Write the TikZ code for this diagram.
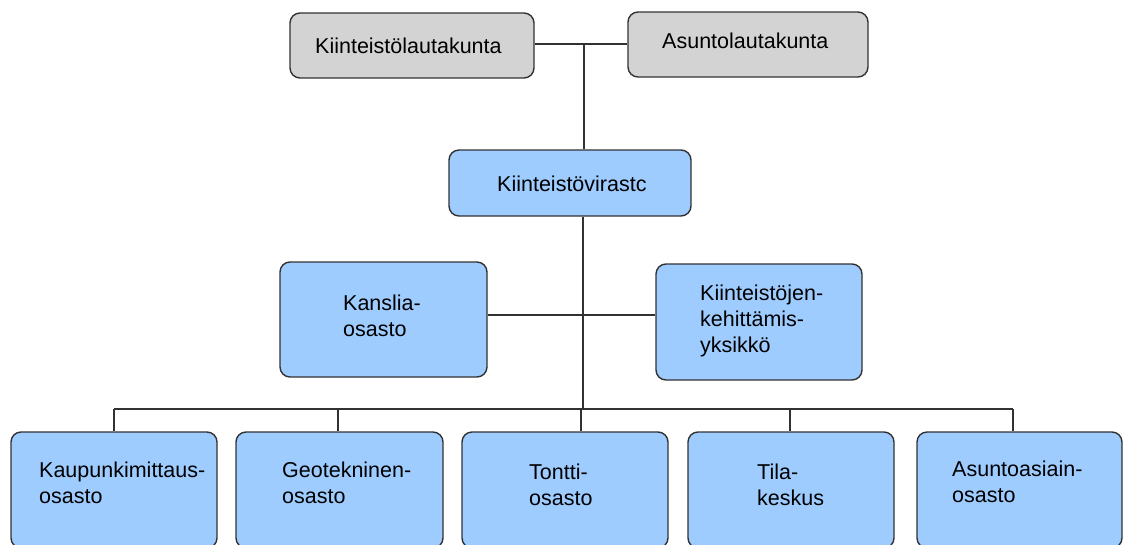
\documentclass[tikz,border=0pt]{standalone}
\usepackage{fontspec}
\setmainfont{Liberation Sans}
\definecolor{boxgray}{RGB}{211,211,211}
\definecolor{boxblue}{RGB}{158,204,255}
\definecolor{edge}{RGB}{50,50,50}
\newcommand\stk[1]{\vtop{\halign{##\hfil\cr#1\crcr}}}
\begin{document}
\begin{tikzpicture}[x=1pt,y=-1pt,
  box/.style={draw=edge, line width=1.4pt, rounded corners=10pt, inner sep=0pt},
  graybox/.style={box, fill=boxgray},
  bluebox/.style={box, fill=boxblue},
  lbl/.style={anchor=base west, inner sep=0pt, font=\fontsize{21.5}{26}\selectfont},
  conn/.style={draw=edge, line width=1.4pt}]
\useasboundingbox (0,0) rectangle (1124,544);
\clip (0,0) rectangle (1124,544);
% top row
\node[graybox, minimum width=244pt, minimum height=65pt] (kl) at (412,45.5) {};
\node[graybox, minimum width=240pt, minimum height=65pt] (al) at (748,44.5) {};
\node[bluebox, minimum width=242pt, minimum height=66pt] (kv) at (570,183) {};
% middle row
\node[bluebox, minimum width=207pt, minimum height=115pt] (ka) at (383.5,319.5) {};
\node[bluebox, minimum width=206pt, minimum height=116pt] (ke) at (759,322) {};
% bottom row
\node[bluebox, minimum width=206pt, minimum height=116pt] (b1) at (114,490) {};
\node[bluebox, minimum width=207pt, minimum height=116pt] (b2) at (339.5,490) {};
\node[bluebox, minimum width=206pt, minimum height=116pt] (b3) at (565,490) {};
\node[bluebox, minimum width=206pt, minimum height=116pt] (b4) at (791,490) {};
\node[bluebox, minimum width=205pt, minimum height=116pt] (b5) at (1019.5,490) {};
% texts
\node[lbl] (klt) at (315,53) {Kiinteistölautakunta};
\node[lbl] (alt) at (662,48) {Asuntolautakunta};
\node[lbl] (kvt) at (497,191) {Kiinteistövirastc};
\node[lbl] (kat) at (343,310) {\stk{Kanslia-\cr osasto}};
\node[lbl] (ket) at (700,300) {\stk{Kiinteistöjen-\cr kehittämis-\cr yksikkö}};
\node[lbl] (b1t) at (39,477) {\stk{Kaupunkimittaus-\cr osasto}};
\node[lbl] (b2t) at (282,477) {\stk{Geotekninen-\cr osasto}};
\node[lbl] (b3t) at (529,479) {\stk{Tontti-\cr osasto}};
\node[lbl] (b4t) at (757,479) {\stk{Tila-\cr keskus}};
\node[lbl] (b5t) at (952,476) {\stk{Asuntoasiain-\cr osasto}};
% connectors
\coordinate (jt) at (584,44);
\coordinate (jm) at (583,315);
\coordinate (jb) at (583,409);
\coordinate (j1) at (114,409);
\coordinate (j2) at (338,409);
\coordinate (j3) at (581,409);
\coordinate (j4) at (790,409);
\coordinate (j5) at (1013,409);
\draw[conn] (kl.east |- jt) -- (al.west |- jt);
\draw[conn] (jt) -- (jt |- kv.north);
\draw[conn] (kv.south -| jb) -- (jb);
\draw[conn] (ka.east |- jm) -- (ke.west |- jm);
\draw[conn] (j1) -- (j5);
\draw[conn] (j1) -- (j1 |- b1.north);
\draw[conn] (j2) -- (j2 |- b2.north);
\draw[conn] (j3) -- (j3 |- b3.north);
\draw[conn] (j4) -- (j4 |- b4.north);
\draw[conn] (j5) -- (j5 |- b5.north);
\end{tikzpicture}
\end{document}
